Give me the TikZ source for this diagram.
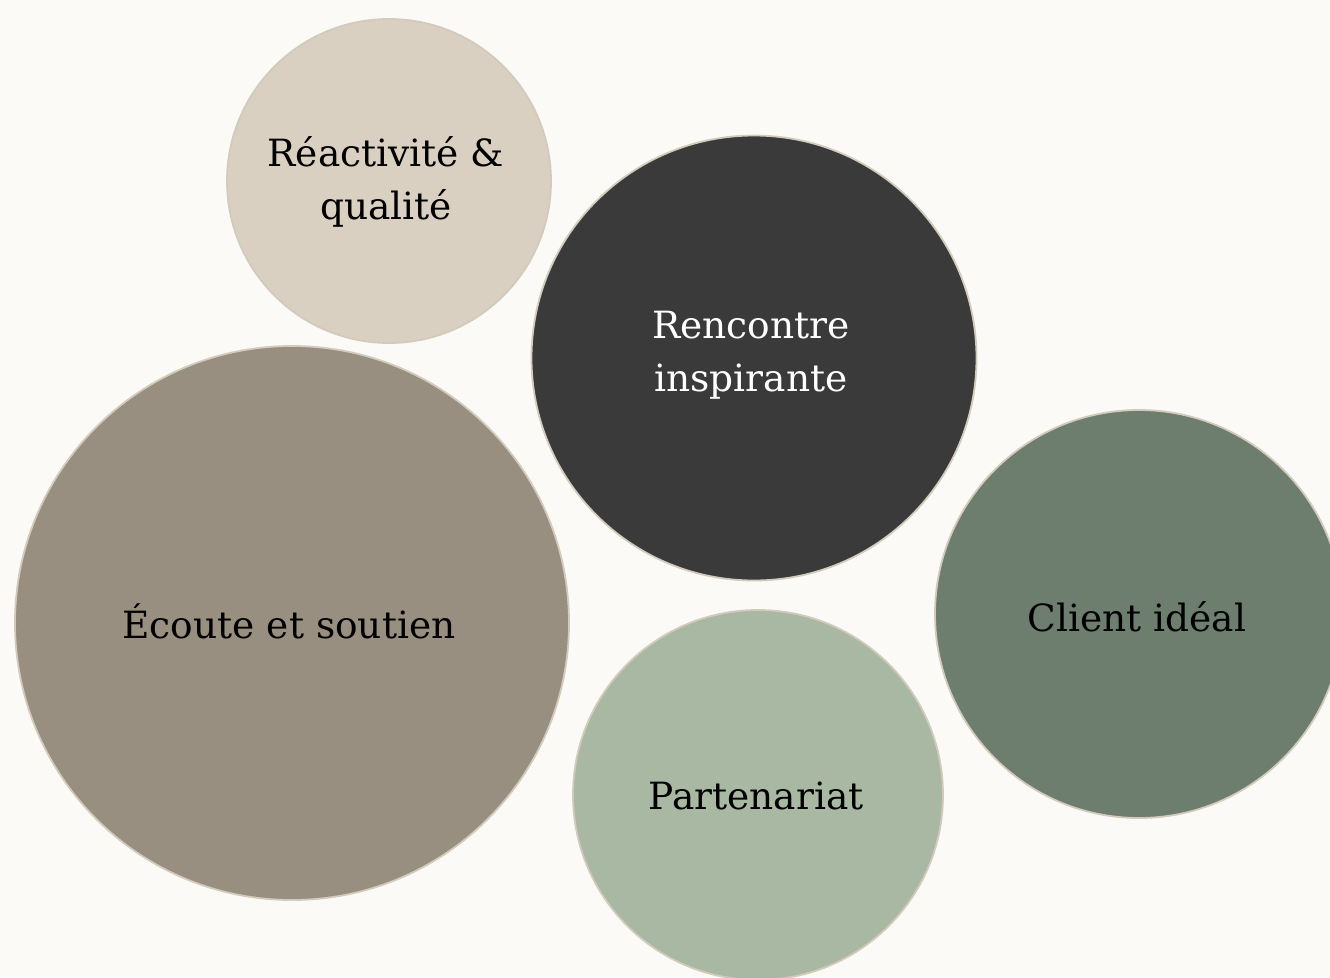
\documentclass[tikz,border=0pt]{standalone}
\usepackage{fontspec}
\setmainfont{DejaVu Serif}
\definecolor{bg}{HTML}{FBFAF7}
\definecolor{edge}{HTML}{D2CBBC}
\definecolor{cA}{HTML}{D9D0C1}
\definecolor{cB}{HTML}{3A3A3A}
\definecolor{cC}{HTML}{998F80}
\definecolor{cD}{HTML}{A9B8A2}
\definecolor{cE}{HTML}{6D7E6F}
\tikzset{
  bubble/.style={circle, draw=edge, line width=1.8pt, inner sep=0pt},
  lbl/.style={align=center, font=\fontsize{37.5}{53}\selectfont, text=black, inner sep=0pt}
}
\begin{document}
\begin{tikzpicture}[x=1pt,y=-1pt]
\fill[bg] (0,0) rectangle (1330,977);
\useasboundingbox (0,0) rectangle (1330,977);
\node[bubble, fill=cA, minimum size=324pt] (ra) at (389,181) {};
\node[bubble, fill=cB, minimum size=445pt] (rb) at (754,358) {};
\node[bubble, fill=cC, minimum size=554pt] (rc) at (292,623) {};
\node[bubble, fill=cD, minimum size=370pt] (rd) at (758,795) {};
\node[bubble, fill=cE, minimum size=408pt] (re) at (1139,614) {};
\node[lbl] (ta) at (386,182) {Réactivité \&\\qualité};
\node[lbl, text=white] (tb) at (751,355) {Rencontre\\inspirante};
\node[lbl] (tc) at (289,621) {Écoute et soutien};
\node[lbl] (td) at (756,796) {Partenariat};
\node[lbl] (te) at (1137,617) {Client idéal};
\end{tikzpicture}
\end{document}
